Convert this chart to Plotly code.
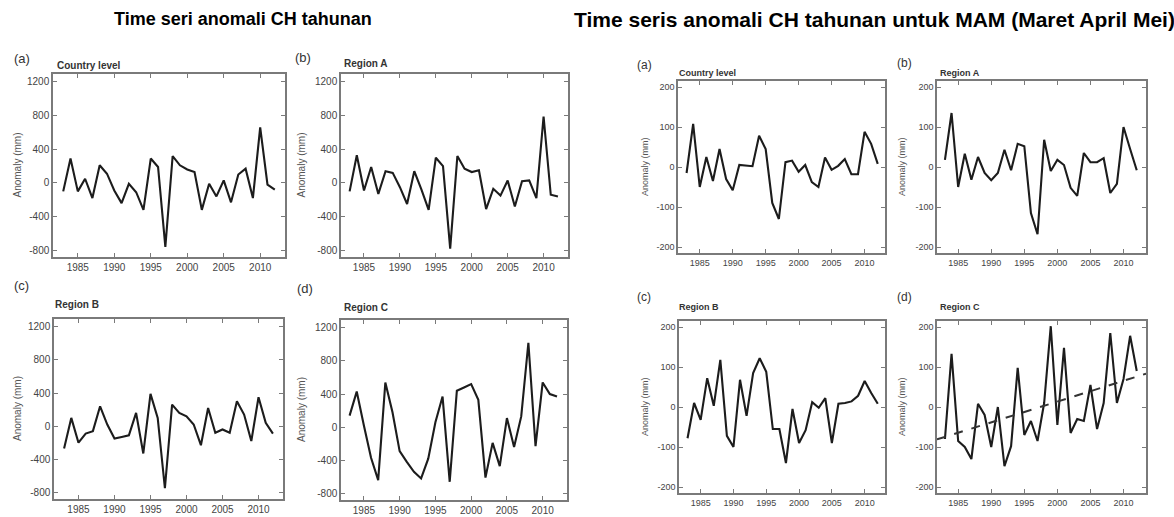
import numpy as np
import plotly.graph_objects as go

years = list(range(1983, 2013))

# Annual rainfall anomaly (mm)
annual_country = [-100, 290, -100, 50, -180, 210, 110, -90, -240, -10,
                  -110, -320, 290, 190, -760, 320, 210, 160, 130, -320,
                  -10, -160, 30, -230, 100, 170, -180, 660, -20, -80]
annual_region_a = [-100, 330, -90, 190, -130, 140, 120, -50, -250, 140,
                   -80, -320, 300, 200, -780, 320, 170, 130, 150, -310,
                   -70, -150, 30, -280, 20, 30, -180, 790, -140, -160]
annual_region_b = [-270, 100, -200, -90, -60, 240, 20, -150, -130, -110,
                   160, -330, 390, 100, -750, 260, 160, 120, 20, -230,
                   220, -80, -40, -80, 300, 140, -180, 350, 40, -90]
annual_region_c = [140, 430, 20, -370, -640, 540, 180, -290, -420, -540,
                   -620, -380, 60, 370, -660, 440, 480, 520, 330, -610,
                   -190, -470, 110, -240, 130, 1020, -230, 540, 400, 370]

# MAM (March-April-May) rainfall anomaly (mm)
mam_country = [-15, 108, -50, 25, -35, 45, -30, -58, 5, 3,
               2, 78, 45, -90, -130, 12, 16, -12, 5, -38,
               -50, 24, -7, 3, 20, -18, -18, 88, 58, 8]
mam_region_a = [18, 135, -50, 33, -32, 25, -15, -33, -15, 43,
                -8, 58, 52, -115, -168, 68, -10, 18, 5, -52,
                -72, 35, 12, 12, 22, -65, -42, 100, 45, -8]
mam_region_b = [-78, 10, -32, 72, 3, 118, -72, -100, 68, -22,
                85, 122, 88, -55, -55, -140, -5, -90, -58, 12,
                -2, 22, -90, 8, 10, 14, 28, 65, 35, 8]
mam_region_c = [-80, 133, -85, -100, -130, 8, -20, -100, 0, -148,
                -98, 98, -70, -35, -85, 10, 202, -45, 148, -65,
                -30, -35, 55, -55, 10, 185, 10, 70, 178, 90]

x_tickvals = [1985, 1990, 1995, 2000, 2005, 2010]
annual_yticks = [-800, -400, 0, 400, 800, 1200]
mam_yticks = [-200, -100, 0, 100, 200]

W, H = 1174, 517
FONT = "Liberation Sans, Arial, sans-serif"
LINE = "#1c1c1c"
FRAME = "#7a7a7a"

# (series, letter, name, box px [x0, x1, y0, y1], yticks, y-range, x-range, label pos, font size)
panels = [
    (annual_country, "(a)", "Country level", (53, 285, 74, 257), annual_yticks, [-880, 1295], [1981.6, 2013.4],
     (12, 58), (55, 65), 17, 10),
    (annual_region_a, "(b)", "Region A", (341, 568, 74, 257), annual_yticks, [-880, 1295], [1981.8, 2013.4],
     (293, 57), (342, 64), 301, 10),
    (annual_region_b, "(c)", "Region B", (54, 283, 319, 499), annual_yticks, [-880, 1295], [1981.6, 2013.4],
     (12, 285), (53, 304), 17, 10),
    (annual_region_c, "(d)", "Region C", (341, 567, 320, 500), annual_yticks, [-880, 1295], [1981.8, 2013.4],
     (295, 288), (342, 307), 301, 10),
    (mam_country, "(a)", "Country level", (678, 885, 81, 253), mam_yticks, [-215, 215], [1981.7, 2013.1],
     (635, 65), (677, 73), 645, 9),
    (mam_region_a, "(b)", "Region A", (937, 1146, 81, 253), mam_yticks, [-215, 215], [1981.8, 2013.4],
     (895, 63), (938, 73), 902, 9),
    (mam_region_b, "(c)", "Region B", (679, 885, 321, 493), mam_yticks, [-215, 215], [1981.7, 2013.1],
     (635, 297), (677, 307), 645, 9),
    (mam_region_c, "(d)", "Region C", (937, 1146, 321, 493), mam_yticks, [-215, 215], [1981.8, 2013.4],
     (895, 297), (938, 307), 902, 9),
]

fig = go.Figure()
layout = dict(
    width=W, height=H,
    margin=dict(l=0, r=0, t=0, b=0),
    paper_bgcolor="white", plot_bgcolor="white",
    showlegend=False,
    font=dict(family=FONT, color="#333"),
)
annotations = []

for i, (vals, letter, name, box, yticks, yrange, xrange_, lpos, npos, ytx, fs) in enumerate(panels, start=1):
    sx = "" if i == 1 else str(i)
    x0, x1, y0, y1 = box
    layout["xaxis" + sx] = dict(
        domain=[x0 / W, x1 / W], anchor="y" + sx, range=xrange_,
        tickvals=x_tickvals, ticks="inside", ticklen=4, tickwidth=1, tickcolor=FRAME,
        showline=True, linecolor=FRAME, linewidth=1.5, mirror="allticks",
        showgrid=False, zeroline=False, tickfont=dict(size=fs, color="#444", family=FONT),
    )
    layout["yaxis" + sx] = dict(
        domain=[1 - y1 / H, 1 - y0 / H], anchor="x" + sx, range=yrange,
        tickvals=yticks, ticktext=[str(v) for v in yticks],
        ticks="inside", ticklen=4, tickwidth=1, tickcolor=FRAME,
        showline=True, linecolor=FRAME, linewidth=1.5, mirror="allticks",
        showgrid=False, zeroline=False, tickfont=dict(size=fs, color="#444", family=FONT),
    )
    fig.add_trace(go.Scatter(x=years, y=vals, mode="lines", xaxis="x" + sx, yaxis="y" + sx,
                             line=dict(color=LINE, width=2.1), hoverinfo="skip"))

    # MAM Region C carries a linear trend across the full axis
    if vals is mam_region_c:
        slope, intercept = np.polyfit(years, vals, 1)
        tx = np.array(xrange_)
        fig.add_trace(go.Scatter(x=tx, y=slope * tx + intercept, mode="lines",
                                 xaxis="x" + sx, yaxis="y" + sx,
                                 line=dict(color="#333", width=2, dash="dash"), hoverinfo="skip"))

    annotations.append(dict(text=letter, x=lpos[0] / W, y=1 - lpos[1] / H, xref="paper", yref="paper",
                            xanchor="left", yanchor="middle", showarrow=False,
                            font=dict(size=fs + 3, color="#333", family=FONT)))
    annotations.append(dict(text="<b>" + name + "</b>", x=npos[0] / W, y=1 - npos[1] / H,
                            xref="paper", yref="paper", xanchor="left", yanchor="middle", showarrow=False,
                            font=dict(size=fs, color="#333", family=FONT)))
    annotations.append(dict(text="Anomaly (mm)", x=ytx / W, y=1 - (y0 + y1) / 2 / H,
                            xref="paper", yref="paper", xanchor="center", yanchor="middle",
                            textangle=-90, showarrow=False,
                            font=dict(size=fs, color="#555", family=FONT)))

TITLE_FONT = "Liberation Sans Narrow, Arial Narrow, Liberation Sans, Arial, sans-serif"
annotations.append(dict(text="<b>Time seri anomali CH tahunan</b>", x=243 / W, y=1 - 19 / H,
                        xref="paper", yref="paper", xanchor="center", yanchor="middle", showarrow=False,
                        font=dict(size=18, color="black", family=TITLE_FONT)))
annotations.append(dict(text="<b>Time seris anomali CH tahunan untuk MAM (Maret April Mei)</b>",
                        x=874 / W, y=1 - 19 / H, xref="paper", yref="paper",
                        xanchor="center", yanchor="middle", showarrow=False,
                        font=dict(size=21, color="black", family=TITLE_FONT)))

layout["annotations"] = annotations
fig.update_layout(**layout)
fig.write_html("out.html")
